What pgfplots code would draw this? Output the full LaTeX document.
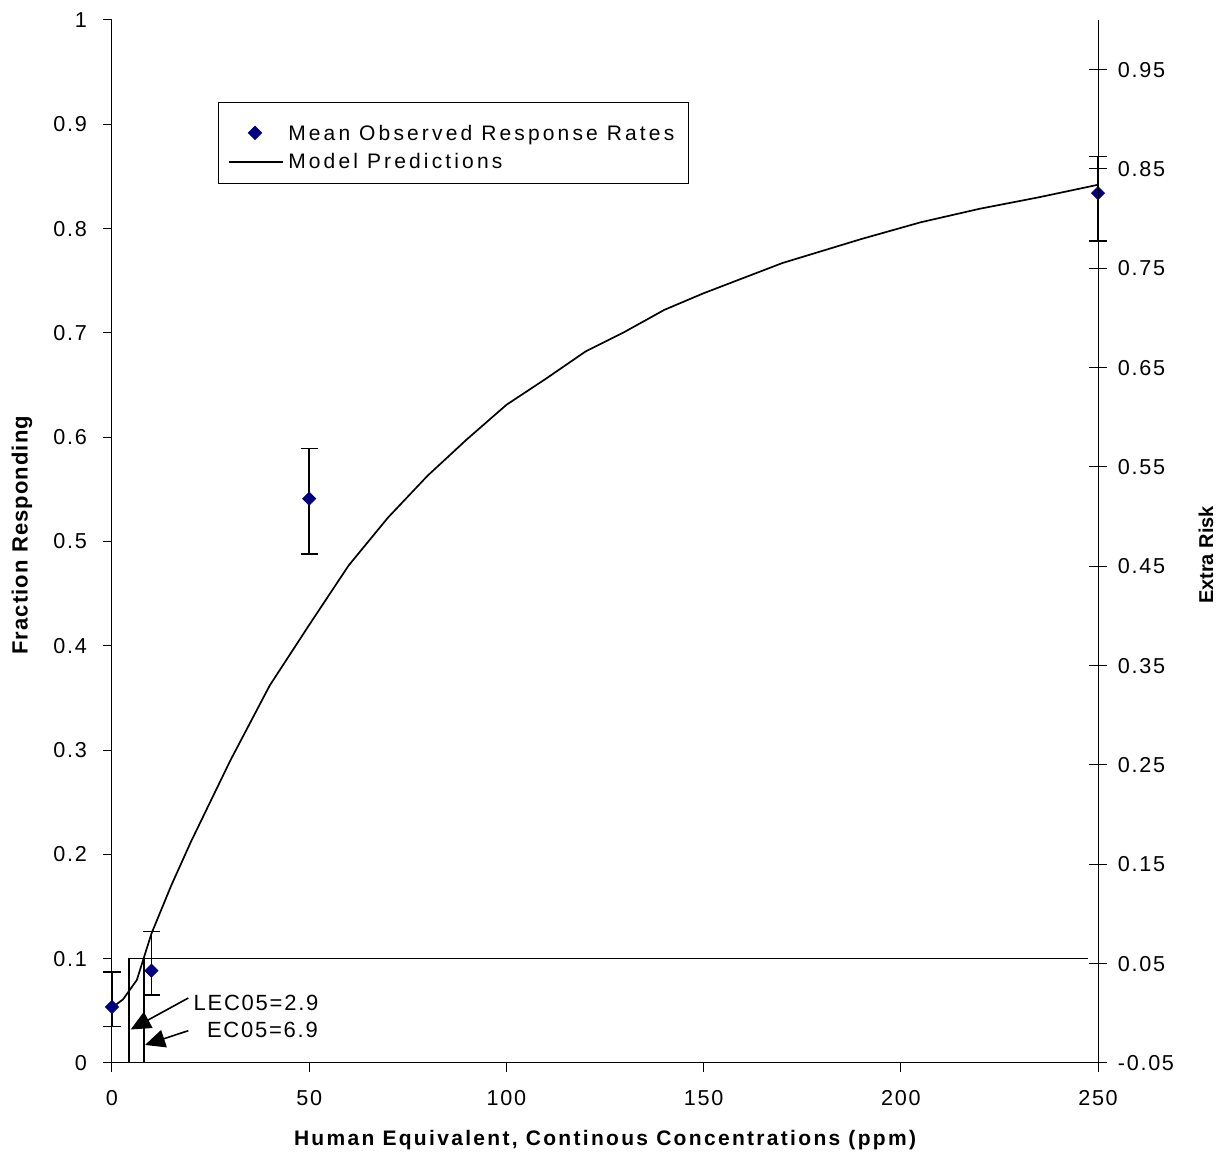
\documentclass[border=0pt]{standalone}
\usepackage{fontspec}
\setmainfont{Liberation Sans}
\newfontfamily\tickfont[LetterSpace=8]{Liberation Sans}
\newfontfamily\legfont[LetterSpace=15]{Liberation Sans}
\newfontfamily\xlabfont[LetterSpace=11]{Liberation Sans}
\newfontfamily\ylabfont[LetterSpace=5]{Liberation Sans}
\usepackage{pgfplots}
\pgfplotsset{compat=1.18}
\usetikzlibrary{arrows.meta}
\definecolor{navy}{RGB}{0,0,128}

\begin{document}
\begin{tikzpicture}
\begin{axis}[
  at={(0,0)}, anchor=south west,
  scale only axis, width=493pt, height=521.5pt,
  xmin=0, xmax=250, ymin=0, ymax=1,
  axis x line*=bottom, axis y line*=left,
  axis line style={line width=0.5pt, -},
  xtick={0,50,100,150,200,250},
  xticklabels={0,50,100,150,200,250},
  ytick={0,0.1,0.2,0.3,0.4,0.5,0.6,0.7,0.8,0.9,1},
  yticklabels={0,0.1,0.2,0.3,0.4,0.5,0.6,0.7,0.8,0.9,1},
  tick align=outside, major tick length=4.5pt,
  tick style={line width=0.5pt, black},
  ticklabel style={font=\tickfont\fontsize{10.8}{12}\selectfont},
  xticklabel style={yshift=-5.5pt},
  yticklabel style={xshift=-4.5pt},
  /pgf/number format/assume math mode=true,
  clip=false,
  legend image code/.code={\draw[#1] (0cm,0cm) -- (0.95cm,0cm);},
  legend style={at={(rel axis cs:0.1075,0.9217)}, anchor=north west,
    draw=black, line width=0.5pt, fill=white,
    font=\legfont\fontsize{10.5}{12}\selectfont,
    inner xsep=5pt, inner ysep=4pt, row sep=0.75pt},
  legend cell align=left,
]
\addplot[black, line width=0.85pt, forget plot] coordinates {
(0,0.053)(2.8,0.061)(6.3,0.0796)(8,0.1)(10,0.124)(15,0.170)(20,0.212)
(30,0.290)(40,0.362)(50,0.420)(60,0.477)(70,0.523)(80,0.563)(90,0.598)
(100,0.631)(110,0.656)(120,0.682)(130,0.701)(140,0.722)(150,0.738)
(170,0.767)(190,0.790)(205,0.806)(220,0.819)(235,0.830)(250,0.842)};
\addplot[black, line width=0.8pt, forget plot] coordinates {(4.36,0)(4.36,0.1)(247.4,0.1)};
\addplot[black, line width=0.8pt, forget plot] coordinates {(8.1,0)(8.1,0.1)};
\addplot[only marks, mark=square*, mark size=2.3pt,
  mark options={rotate=45, fill=navy, draw=navy},
  legend image code/.code={\fill[navy] (0.45cm,1.25pt) -- ++(3.25pt,-3.25pt) -- ++(-3.25pt,-3.25pt) -- ++(-3.25pt,3.25pt) -- cycle;},
  error bars/.cd, y dir=both, y explicit,
  error bar style={black, line width=0.8pt},
  error mark options={rotate=90, mark size=4.3pt, black, line width=0.8pt}]
  coordinates {
  (0,0.0537) += (0,0.0333) -= (0,0.0189)
  (10,0.0885) += (0,0.0375) -= (0,0.0235)
  (50,0.541) += (0,0.048) -= (0,0.053)
  (250,0.834) += (0,0.035) -= (0,0.046)
  };
\addlegendentry{\rule{0pt}{13.2pt}Mean Observed Response Rates}
\addlegendimage{black, line width=0.85pt}
\addlegendentry{Model Predictions}
\draw[line width=0.8pt, -{Triangle[length=10pt,width=9pt]}] (axis cs:19.35,0.0623) -- (axis cs:4.74,0.0321);
\draw[line width=0.8pt, -{Triangle[length=10pt,width=9pt]}] (axis cs:19.35,0.031) -- (axis cs:8.37,0.0173);
\node[anchor=west, inner sep=0pt, font=\tickfont\fontsize{11}{13}\selectfont] at (axis cs:20.6,0.0572) {LEC05=2.9};
\node[anchor=west, inner sep=0pt, font=\tickfont\fontsize{11}{13}\selectfont] at (axis cs:24.0,0.0316) {EC05=6.9};
\node[font=\xlabfont\bfseries\fontsize{10.5}{12}\selectfont] at (rel axis cs:0.5,-0.0738) {Human Equivalent, Continous Concentrations (ppm)};
\node[rotate=90, font=\ylabfont\bfseries\fontsize{11}{13}\selectfont] at (rel axis cs:-0.0913,0.506) {Fraction Responding};
\node[rotate=90, font=\bfseries\fontsize{10}{12}\selectfont] at (rel axis cs:1.1095,0.487) {Extra Risk};
\end{axis}
\begin{axis}[
  at={(0,0)}, anchor=south west,
  scale only axis, width=493pt, height=521.5pt,
  xmin=0, xmax=250, ymin=-0.05, ymax=1,
  axis x line=none, axis y line*=right,
  axis line style={line width=0.5pt, -},
  ytick={-0.05,0.05,0.15,0.25,0.35,0.45,0.55,0.65,0.75,0.85,0.95},
  yticklabels={-0.05,0.05,0.15,0.25,0.35,0.45,0.55,0.65,0.75,0.85,0.95},
  tick align=center, major tick length=8.8pt,
  tick style={line width=0.5pt, black},
  ticklabel style={font=\tickfont\fontsize{10.8}{12}\selectfont},
  yticklabel style={xshift=2pt},
  /pgf/number format/assume math mode=true,
]
\addplot[draw=none] coordinates {(0,0)};
\end{axis}
\pgfresetboundingbox
\path[use as bounding box] (-56pt,-48pt) rectangle (556pt,531.5pt);
\end{tikzpicture}
\end{document}
